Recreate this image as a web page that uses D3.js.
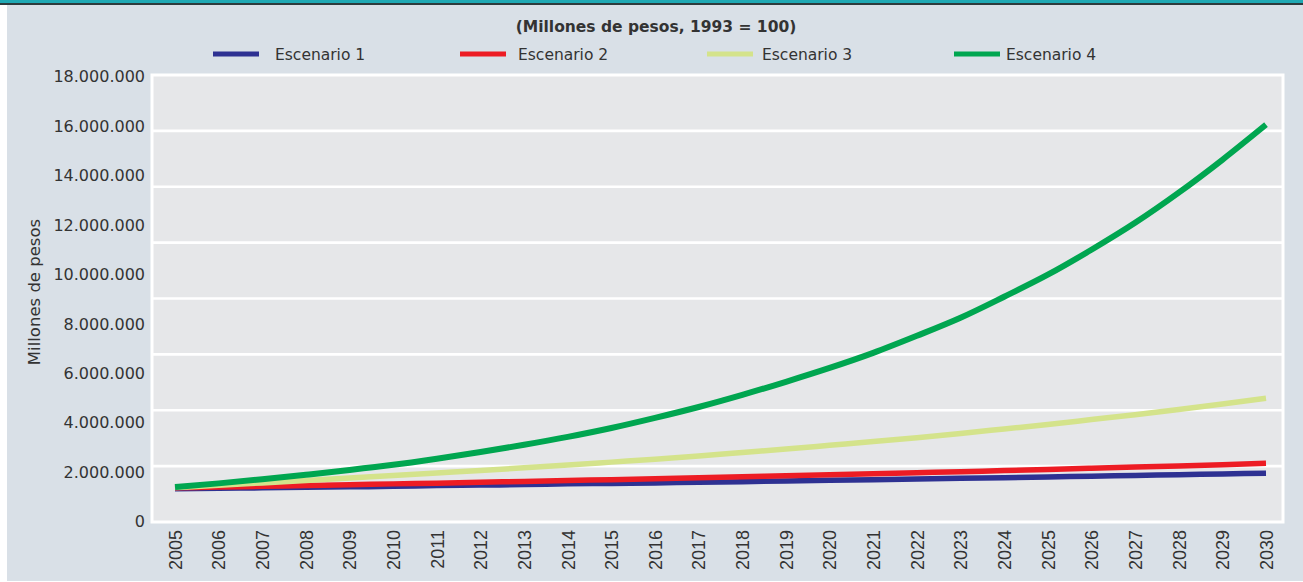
<!DOCTYPE html>
<html>
<head>
<meta charset="utf-8">
<script src="https://cdn.jsdelivr.net/npm/d3@7"></script>
<style>
  body { margin: 0; background: #ffffff; }
  svg { display: block; }
</style>
</head>
<body>
<div id="chart"></div>
<script>
// years on the x axis
const years = d3.range(2005, 2031);

// values in millions of pesos
const escenario1 = [1.33, 1.35, 1.37, 1.39, 1.41, 1.43, 1.46, 1.48, 1.50, 1.53, 1.55, 1.57, 1.60,
    1.62, 1.65, 1.68, 1.70, 1.73, 1.76, 1.78, 1.81, 1.84, 1.87, 1.90, 1.93, 1.96];
const escenario2 = [1.37, 1.40, 1.43, 1.46, 1.49, 1.53, 1.56, 1.60, 1.63, 1.67, 1.70, 1.74, 1.78,
    1.82, 1.86, 1.90, 1.94, 1.98, 2.02, 2.07, 2.11, 2.16, 2.21, 2.25, 2.30, 2.36];
const escenario3 = [1.38, 1.47, 1.57, 1.67, 1.77, 1.87, 1.97, 2.07, 2.18, 2.29, 2.41, 2.53, 2.66,
    2.80, 2.94, 3.09, 3.24, 3.40, 3.57, 3.75, 3.93, 4.13, 4.33, 4.54, 4.76, 4.99];
const escenario4 = [1.40, 1.55, 1.72, 1.90, 2.09, 2.30, 2.55, 2.82, 3.11, 3.43, 3.79, 4.20, 4.64,
    5.13, 5.66, 6.22, 6.83, 7.52, 8.25, 9.10, 9.99, 11.00, 12.09, 13.31, 14.64, 16.06];

const seriesNames = ['Escenario 1', 'Escenario 2', 'Escenario 3', 'Escenario 4'];
const seriesColors = ['#2e3192', '#ed1c24', '#d4e38b', '#00a650'];
const yTicks = d3.range(0, 18000001, 2000000);

const width = 1303;
const height = 582;
const plot = { left: 152, right: 1283, top: 75, bottom: 522 };
const font = '"DejaVu Sans", sans-serif';

const svg = d3.select('#chart')
    .append('svg')
    .attr('width', width)
    .attr('height', height);

// panel background and top band
svg.append('rect')
    .attr('x', 7).attr('y', 5)
    .attr('width', width - 7).attr('height', height - 6)
    .attr('fill', '#d9e0e7');
svg.append('rect')
    .attr('x', 0).attr('y', 0)
    .attr('width', width).attr('height', 3)
    .attr('fill', '#1fa9b4');
svg.append('rect')
    .attr('x', 0).attr('y', 3)
    .attr('width', width).attr('height', 2)
    .attr('fill', '#2d3b3d');

const x = d3.scaleLinear().domain([2005, 2030]).range([175, 1266]);
const y = d3.scaleLinear().domain([0, 18000000]).range([521.7, 76.7]);

// plot area with white frame
svg.append('rect')
    .attr('x', plot.left).attr('y', plot.top)
    .attr('width', plot.right - plot.left).attr('height', plot.bottom - plot.top)
    .attr('fill', '#e6e7e9')
    .attr('stroke', '#ffffff')
    .attr('stroke-width', 3);

// horizontal gridlines split the plot in eight bands
const gridY = d3.scaleLinear().domain([0, 8]).range([plot.bottom, plot.top]);
svg.append('g')
    .selectAll('line')
    .data(d3.range(1, 8))
    .join('line')
    .attr('x1', plot.left).attr('x2', plot.right)
    .attr('y1', d => gridY(d)).attr('y2', d => gridY(d))
    .attr('stroke', '#ffffff')
    .attr('stroke-width', 2.6);

// y axis
const yAxis = d3.axisLeft(y)
    .tickValues(yTicks)
    .tickSize(0)
    .tickPadding(0)
    .tickFormat(d => d3.format(',')(d).replace(/,/g, '.'));
const gy = svg.append('g')
    .attr('transform', 'translate(145,0)')
    .call(yAxis);
gy.select('.domain').remove();
gy.selectAll('text')
    .attr('font-family', font)
    .attr('font-size', 16)
    .attr('fill', '#333333');

svg.append('text')
    .attr('transform', 'translate(40,292) rotate(-90)')
    .attr('text-anchor', 'middle')
    .attr('font-family', font)
    .attr('font-size', 16.5)
    .attr('fill', '#333333')
    .text('Millones de pesos');

// x axis
const xAxis = d3.axisBottom(x)
    .tickValues(years)
    .tickSize(0)
    .tickFormat(d3.format('d'));
const gx = svg.append('g')
    .attr('transform', 'translate(0,528)')
    .call(xAxis);
gx.select('.domain').remove();
gx.selectAll('text')
    .attr('font-family', '"Liberation Sans", Arial, sans-serif')
    .attr('font-size', 18)
    .attr('fill', '#333333')
    .attr('text-anchor', 'end')
    .attr('dy', '0.35em')
    .attr('transform', 'rotate(-90)')
    .attr('x', -2)
    .attr('y', 0);

// lines
const allSeries = [escenario1, escenario2, escenario3, escenario4];
const line = d3.line()
    .x((d, i) => x(years[i]))
    .y(d => y(d * 1000000))
    .curve(d3.curveMonotoneX);

svg.append('g')
    .selectAll('path')
    .data(allSeries)
    .join('path')
    .attr('d', d => line(d))
    .attr('fill', 'none')
    .attr('stroke', (d, i) => seriesColors[i])
    .attr('stroke-width', (d, i) => i === 3 ? 6 : 5.5);

// title
svg.append('text')
    .attr('x', 656).attr('y', 32)
    .attr('text-anchor', 'middle')
    .attr('font-family', font)
    .attr('font-weight', 'bold')
    .attr('font-size', 15.5)
    .attr('fill', '#333333')
    .text('(Millones de pesos, 1993 = 100)');

// legend
const legendX = [213, 460, 707, 954];
const legendTextX = [275, 518, 762, 1006];
const legend = svg.append('g')
    .selectAll('g')
    .data(seriesNames)
    .join('g')
    .attr('transform', (d, i) => `translate(${legendX[i]},54)`);
legend.append('line')
    .attr('x1', 0).attr('x2', 46)
    .attr('stroke', (d, i) => seriesColors[i])
    .attr('stroke-width', 5);
legend.append('text')
    .attr('x', (d, i) => legendTextX[i] - legendX[i])
    .attr('dy', '0.38em')
    .attr('font-family', font)
    .attr('font-size', 15.5)
    .attr('fill', '#333333')
    .text(d => d);
</script>
</body>
</html>
